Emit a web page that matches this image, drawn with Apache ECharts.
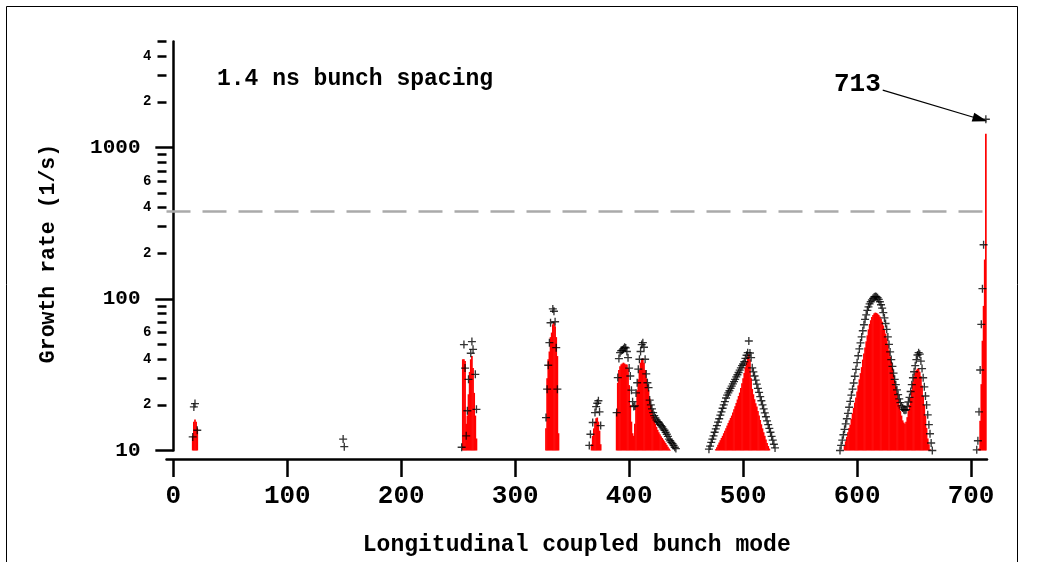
<!DOCTYPE html>
<html>
<head>
<meta charset="utf-8">
<script src="https://cdn.jsdelivr.net/npm/echarts@6/dist/echarts.min.js"></script>
<style>html,body{margin:0;padding:0;background:#fff;}#c{width:1049px;height:562px;}</style>
</head>
<body>
<div id="c"></div>
<script>
// ---- data ----
const barModes = [17,18,19,20,21,
 254,255,256,257,258,259,260,261,262,263,264,265,266,
 327,328,329,330,331,332,333,334,335,336,337,338,
 367,368,369,370,371,372,373,374,375,
 389,390,391,392,393,394,395,396,397,398,399,400,401,402,403,404,405,406,407,408,409,410,411,412,413,414,415,416,417,418,419,420,421,422,423,424,425,426,427,428,429,430,431,432,433,434,435,436,
 476,477,478,479,480,481,482,483,484,485,486,487,488,489,490,491,492,493,494,495,496,497,498,499,500,501,502,503,504,505,506,507,508,509,510,511,512,513,514,515,516,517,518,519,520,521,522,523,
 588,589,590,591,592,593,594,595,596,597,598,599,600,601,602,603,604,605,606,607,608,609,610,611,612,613,614,615,616,617,618,619,620,621,622,623,624,625,626,627,628,629,630,631,632,633,634,635,636,637,638,639,640,641,642,643,644,645,646,647,648,649,650,651,652,653,654,655,656,657,658,659,660,661,662,663,664,
 707,708,709,710,711,712,713];
const barRates = [12.5,15.5,16,15.5,14,
 40,40,39,15,17,23.5,33,40,42,35,24,17,12,
 14,30,40,45,56,60,68,70,66,56,42,13,
 11,12.5,14,15.5,16.3,16.5,15.5,13.5,11,
 18,28,34,36,37,37.5,38,37.5,37,37,35,27,20,15.5,13,12.5,15,20,25,29.5,34,38,40,40.5,38,34,30,27,25,22,20,18.5,17,16,15,14.3,13.7,13.2,12.8,12.4,12.1,11.8,11.5,11.2,10.9,10.6,10.3,10.1,
 10.2,10.5,10.9,11.3,11.7,12.1,12.5,13,13.5,14,14.6,15.2,15.8,16.4,17,17.8,18.7,19.6,20.6,21.7,22.9,24.1,25.8,27.8,30,32.5,35.5,38.5,41.5,43.2,40,30,25.5,23.5,21.8,20.5,19.5,18.2,17,15.9,14.9,14,13.2,12.5,11.8,11.2,10.7,10.3,
 10,10.7,11.5,12.3,13.2,14.1,14.8,16.2,17.6,19.1,20.7,22.4,24.5,26.9,29.5,32.4,35.5,39.8,43.7,47.9,52.5,57.5,63,68.4,72.4,75.9,78.5,80.4,81.3,80.9,80,78.5,76.7,74,70.8,66.8,63,59,55,50,45.7,41.7,38.5,35,31.6,28.8,26.3,24,21.9,20,18.2,17,15.8,15.3,15,15.5,16.6,18.2,20,22.4,25.1,28.2,30.9,32.7,33.9,34.7,34.7,33.1,30.9,26.9,22.9,20,17,14.1,12,11,10.2,
 10.3,15.7,27.4,53,90,182,1230];

const crossModes = [17,18,19,21,
 149,150,
 253,255,256,257,258,259,261,262,263,265,266,
 327,328,329,330,331,333,334,335,336,337,
 365,366,368,370,371,372,373,374,375,
 389,390,391,392,393,394,395,396,397,398,399,400,401,402,403,404,405,406,407,408,409,410,411,412,413,414,415,416,417,418,419,420,421,422,423,424,425,426,427,428,429,430,431,432,433,434,435,436,437,438,439,440,441,
 470,471,472,473,474,475,476,477,478,479,480,481,482,483,484,485,486,487,488,489,490,491,492,493,494,495,496,497,498,499,500,501,502,503,504,505,506,507,508,509,510,511,512,513,514,515,516,517,518,519,520,521,522,523,524,525,526,527,528,
 585,586,587,588,589,590,591,592,593,594,595,596,597,598,599,600,601,602,603,604,605,606,607,608,609,610,611,612,613,614,615,616,617,618,619,620,621,622,623,624,625,626,627,628,629,630,631,632,633,634,635,636,637,638,639,640,641,642,643,644,645,646,647,648,649,650,651,652,653,654,655,656,657,658,659,660,661,662,663,664,665,666,
 705,706,707,708,709,710,711,713];
const crossRates = [12.3,19.4,20.4,13.6,
 11.9,10.6,
 10.5,50,35,12.5,18.3,29.5,43.8,52.3,46.5,31.8,18.7,
 16.5,25.4,36.5,51.5,69.7,86,83,70.7,47.7,25.4,
 10.8,12.8,15.3,17.8,19.5,20.5,21.3,18,14.6,
 17.8,30.3,40.4,44.2,45.5,46,47,48,47.5,45,41,35,31,25,21,19.5,19.7,24,28,34.4,40,45,50,51.5,48,40,32,28,26,21.5,20,18.8,17.8,17,16.4,15.9,15.5,15.3,14.9,14.6,14.3,13.9,13.6,13.2,12.8,12.4,11.9,11.6,11.3,11.1,10.8,10.5,10.3,
 10.2,10.7,11.3,11.9,12.5,13.2,13.9,14.6,15.4,16.2,17.1,18,19,20,21,22.2,23.2,24,24.8,25.7,26.6,27.5,28.5,29.5,30.6,31.6,32.7,33.9,35.1,36.3,37.2,38.5,40.5,42.5,44.2,52.8,44,41,35.1,33,31,29.1,27.4,25.7,24.2,22.7,21.3,20,18.8,17.7,16.7,15.7,14.8,14,13.2,12.4,11.7,11,10.4,
 10,10.8,11.7,12.7,13.8,15,16.2,17.6,19.3,21.1,23.2,25.4,27.9,30.9,34.3,38,42.2,46.8,51.3,56.2,61.7,67.6,73.3,78.5,84.1,88.7,92.7,95.9,98.4,101,103,104,103.5,101.9,99.3,95.9,91.6,87.1,81.3,75,68.9,63,56.2,50.1,44.7,39.8,35.9,32.4,29.5,27.2,25.1,23.4,21.9,20.7,19.7,19.1,18.6,18.4,18.6,19.5,20.9,22.4,24.5,27.2,30.2,33.1,36.3,39.8,42.7,44.2,43.2,38.9,34.7,30.2,26.3,22.9,20,17.2,14.8,12.9,11.2,10,
 10.1,11.6,18,34,68,117,228,1535];

const xTickValues = [0,100,200,300,400,500,600,700];
const yMajorValues = [10,100,1000];
const yMinorTicks = [20,30,40,50,60,70,80,90,200,300,400,500,600,700,800,900,2000,3000,4000,5000];
const yMinorLabels = [20,40,60,200,400,600,2000,4000];
const thresholdRate = 380;
const annotationText = '713';
const annotationFrom = [622.5, 2390];
const annotationTo = [708, 1535];
const titleText = '1.4 ns bunch spacing';
const xTitle = 'Longitudinal coupled bunch mode';
const yTitle = 'Growth rate (1/s)';

// ---- chart ----
const MONO = '"Liberation Mono", "DejaVu Sans Mono", monospace';
const chart = echarts.init(document.getElementById('c'), null, {renderer: 'canvas'});
const plus = 'path://M2.5,0H3.5V2.5H6V3.5H3.5V6H2.5V3.5H0V2.5H2.5Z';

chart.setOption({
  animation: false,
  backgroundColor: '#ffffff',
  graphic: [{
    type: 'rect', silent: true, z: 0,
    shape: {x: 6.5, y: 6.5, width: 1011, height: 620},
    style: {fill: 'none', stroke: '#000', lineWidth: 1}
  }, {
    type: 'text', left: 217, top: 68, silent: true,
    style: {text: titleText, font: 'bold 23px ' + MONO, fill: '#000'}
  }],
  grid: {left: 166.5, right: 62, top: 41.5, bottom: 110.5, containLabel: false},
  xAxis: {
    type: 'value', min: -6, max: 714, position: 'bottom', offset: 8.5,
    name: xTitle, nameLocation: 'middle', nameGap: 75,
    nameTextStyle: {fontFamily: MONO, fontWeight: 'bold', fontSize: 23, color: '#000'},
    axisLine: {show: true, lineStyle: {color: '#000', width: 2.5}},
    axisTick: {show: true, customValues: xTickValues, length: 18, lineStyle: {color: '#000', width: 2.5}},
    axisLabel: {show: true, customValues: xTickValues, margin: 24, fontFamily: MONO, fontWeight: 'bold', fontSize: 26, color: '#000'},
    splitLine: {show: false}
  },
  yAxis: [{
    type: 'log', logBase: 10, min: 10, max: 5000, position: 'left',
    name: yTitle, nameLocation: 'middle', nameRotate: 90, nameGap: 107,
    nameTextStyle: {fontFamily: MONO, fontWeight: 'bold', fontSize: 21.5, color: '#000', padding: [0, 15, 0, 0]},
    axisLine: {show: true, lineStyle: {color: '#000', width: 2.5}},
    axisTick: {show: true, customValues: yMajorValues, length: 18, lineStyle: {color: '#000', width: 2.5}},
    axisLabel: {show: true, customValues: yMajorValues, margin: 26, fontFamily: MONO, fontWeight: 'bold', fontSize: 21, color: '#000',
      formatter: function (v) { return String(v); }},
    splitLine: {show: false}
  }, {
    type: 'log', logBase: 10, min: 10, max: 5000, position: 'left',
    axisLine: {show: false},
    axisTick: {show: true, customValues: yMinorTicks, length: 9, lineStyle: {color: '#000', width: 2.5}},
    axisLabel: {show: true, customValues: yMinorLabels, margin: 15, fontFamily: MONO, fontWeight: 'bold', fontSize: 14, color: '#000',
      formatter: function (v) { return String(v).charAt(0); }},
    splitLine: {show: false}
  }],
  series: [{
    type: 'bar', name: 'growth', yAxisIndex: 0,
    data: barModes.map(function (m, i) { return [m, barRates[i]]; }),
    barWidth: 1.7, clip: true, silent: true,
    itemStyle: {color: '#ff0000'},
    markLine: {
      silent: true, symbol: 'none', animation: false,
      label: {show: false},
      lineStyle: {color: '#aaaaaa', type: [24, 12], width: 2.5},
      data: [{yAxis: thresholdRate}]
    }
  }, {
    type: 'scatter', name: 'calc', yAxisIndex: 0,
    data: crossModes.map(function (m, i) { return [m, crossRates[i]]; }),
    symbol: plus, symbolSize: 8, silent: true,
    itemStyle: {color: '#000'},
    markLine: {
      silent: true, animation: false,
      symbol: ['none', 'triangle'], symbolSize: [9, 15],
      lineStyle: {color: '#000', type: 'solid', width: 1.2},
      label: {show: true, position: 'start', formatter: annotationText, distance: 2, offset: [0, -5],
        fontFamily: MONO, fontWeight: 'bold', fontSize: 26, color: '#000'},
      data: [[{coord: annotationFrom}, {coord: annotationTo}]]
    }
  }]
});
</script>
</body>
</html>
